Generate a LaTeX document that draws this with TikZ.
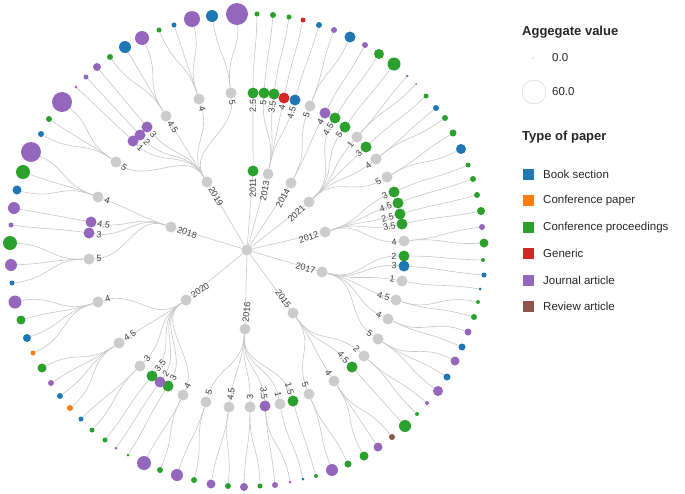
\documentclass[tikz,border=0pt]{standalone}
\usepackage{fontspec}
\setmainfont{Liberation Sans}
\usetikzlibrary{calc,backgrounds}
\definecolor{cB}{HTML}{1F77B4}
\definecolor{cO}{HTML}{FF7F0E}
\definecolor{cG}{HTML}{2CA02C}
\definecolor{cR}{HTML}{D62728}
\definecolor{cP}{HTML}{9467BD}
\definecolor{cN}{HTML}{8C564B}
\definecolor{cY}{HTML}{CCCCCC}
\tikzset{
  link/.style={draw=black!22, line width=0.6pt},
  inner/.style={circle, inner sep=0pt, minimum size=11pt},
  leaf/.style={circle, inner sep=0pt},
  lbltext/.style={font=\fontsize{9}{10}\selectfont, text=black!75, inner sep=0pt},
  legtext/.style={font=\fontsize{11.5}{13}\selectfont, text=black!85, anchor=west, inner sep=0pt},
  legtitle/.style={font=\bfseries\fontsize{13}{15}\selectfont, text=black!85, anchor=west, inner sep=0pt}
}
% label laid along the radius, on the side of the centre
\newcommand{\lbl}[3]{\path let \p1=($(ctr)-(#1)$), \n1={atan2(\y1,\x1)},
  \n2={ifthenelse(\x1<0,\n1+180,\n1)} in node[lbltext, rotate=\n2] at ($(#1)!#3!(ctr)$) {#2};}
% radial link
\newcommand{\edge}[2]{\begin{pgfonlayer}{background}
  \draw[link] let \p1=($(#1)-(ctr)$), \p2=($(#2)-(ctr)$), \n1={(veclen(\x1,\y1)+veclen(\x2,\y2))/2} in
  (#1) .. controls ($(ctr)!\n1!(#1)$) and ($(ctr)!\n1!(#2)$) .. (#2);
  \end{pgfonlayer}}
\begin{document}
\begin{tikzpicture}[x=1pt, y=-1pt]
\useasboundingbox (0,0) rectangle (685,493);
\coordinate (ctr) at (252,255);
\node[inner, fill=cY] (hub) at (247,250) {};

% years
\foreach \nm/\px/\py/\c/\t in {y19/207/182/cY/2019, y18/171/227/cY/2018, y11/253/171/cG/2011,
  y13/268/174/cY/2013, y14/291/183/cY/2014, y21/309/202/cY/2021, y12/325/232/cY/2012,
  y17/322/272/cY/2017, y15/293/313/cY/2015, y16/245/329/cY/2016, y20/186/300/cY/2020}{
  \node[inner, fill=\c] (\nm) at (\px,\py) {};
  \begin{pgfonlayer}{background}\draw[link] (hub) -- (\nm);\end{pgfonlayer}
  \lbl{\nm}{\t}{17pt}
}

% scores
\foreach \nm/\px/\py/\c/\t/\pa/\d in {
  a1/116/162/cY/5/y19/10pt, a2/133/141/cP/1/y19/10pt, a3/140/135/cP/2/y19/10pt, a4/147/127/cP/3/y19/10pt,
  a5/166/116/cY/4.5/y19/13pt, a6/199/99/cY/4/y19/10pt, a7/231/93/cY/5/y19/10pt,
  b1/98/197/cY/4/y18/10pt, b2/91/222/cP/4.5/y18/13pt, b3/89/233/cP/3/y18/10pt, b4/89/259/cY/5/y18/10pt,
  c1/253/93/cG/2.5/y11/13pt, c2/264/93/cG/5/y13/10pt, c3/274/94/cG/3.5/y13/13pt,
  c4/284/98/cR/4/y13/10pt, c5/295/100/cB/4.5/y13/13pt,
  d1/310/106/cY/5/y14/10pt, d2/325/113/cP/4/y14/10pt, d3/335/118/cG/4.5/y21/13pt, d4/345/127/cG/5/y21/10pt,
  e1/357/137/cY/1/y21/10pt, e2/366/147/cG/3/y21/10pt, e3/376/159/cY/4/y21/10pt, e4/387/177/cY/5/y21/10pt,
  f1/394/192/cG/3/y12/10pt, f2/398/203/cG/4.5/y12/13pt, f3/400/214/cG/2.5/y12/13pt,
  f4/402/224/cG/3.5/y12/13pt, f5/404/241/cY/4/y12/10pt,
  g1/404/256/cG/2/y17/10pt, g2/404/266/cB/3/y17/10pt, g3/402/281/cY/1/y17/10pt,
  g4/396/300/cY/4.5/y17/13pt, g5/388/319/cY/4/y17/10pt, g6/378/339/cY/5/y17/10pt,
  h1/364/356/cY/2/y15/10pt, h2/352/367/cG/4.5/y15/13pt, h3/334/381/cY/4/y15/10pt, h4/309/394/cY/5/y15/10pt,
  i1/293/401/cG/1.5/y16/13pt, i2/280/404/cY/1/y16/10pt, i3/265/406/cP/3.5/y16/13pt,
  i4/250/407/cY/3/y16/10pt, i5/229/407/cY/4.5/y16/13pt, i6/206/402/cY/5/y16/10pt,
  j1/183/395/cY/4/y20/10pt, j2/168/386/cG/3/y20/10pt, j3/160/382/cP/2/y20/10pt, j4/152/376/cG/3.5/y20/13pt,
  j5/140/366/cY/3/y20/10pt, j6/119/343/cY/4.5/y20/13pt, j7/98/302/cY/4/y20/10pt}{
  \node[inner, fill=\c] (\nm) at (\px,\py) {};
  \edge{\pa}{\nm}
  \lbl{\nm}{\t}{\d}
}

% papers
\foreach \px/\py/\c/\s/\pa [count=\i] in {
  10/243/cG/14/b4, 11/265/cP/12/b4, 12/283/cB/5/b4, 11/225/cP/5/b3, 14/208/cP/12/b2,
  17/190/cB/9/b1, 23/172/cG/14/b1, 31/152/cP/20/b1,
  41/134/cB/6/a1, 49/119/cG/6/a1, 62/102/cP/20/a1,
  76/87/cP/3/a2, 86/77/cP/5/a3, 97/67/cP/8/a4,
  110/57/cG/6/a5, 125/47/cB/12/a5, 142/38/cP/14/a5,
  159/30/cG/5/a6, 174/25/cB/5/a6, 192/19/cP/16/a6,
  212/16/cB/12/a7, 237/14/cP/22/a7,
  257/14/cG/5/c1, 273/15/cG/6/c2, 289/17/cG/5/c3, 303/20/cR/5/c4, 319/25/cB/6/c5,
  334/30/cP/6/d1, 350/37/cB/11/d1, 365/45/cP/6/d2, 379/54/cG/10/d3, 394/64/cG/13/d4,
  407/76/cP/3/e1, 416/84/cP/2/e1, 426/96/cG/5/e2, 436/108/cB/6/e3, 445/118/cG/6/e3,
  453/133/cG/7/e4, 461/149/cB/10/e4,
  468/165/cG/5/f1, 473/179/cG/6/f2, 477/195/cG/6/f3, 481/211/cG/8/f4, 482/227/cP/6/f5, 484/243/cG/9/f5,
  483/260/cG/4/g1, 484/275/cB/5/g2, 480/289/cB/3/g3, 478/302/cG/4/g4, 474/317/cG/6/g4,
  468/332/cP/7/g5, 462/347/cB/7/g5, 455/361/cP/9/g6, 447/377/cB/7/g6, 438/391/cP/10/g6,
  427/403/cP/4/h1, 417/414/cG/4/h1, 405/426/cG/12/h2, 392/437/cN/6/h3, 378/447/cP/9/h3,
  364/456/cG/9/h3, 348/464/cG/7/h4, 332/470/cP/12/h4,
  316/476/cG/4/i1, 303/479/cB/3/i2, 290/482/cP/3/i3, 275/485/cP/6/i3, 260/486/cG/5/i4,
  244/487/cP/8/i4, 228/486/cG/6/i5, 211/484/cP/9/i5, 194/480/cG/6/i6, 177/475/cP/12/i6,
  160/470/cG/6/j1, 144/463/cP/14/j1, 128/455/cG/3/j2, 116/448/cP/3/j3, 105/440/cG/5/j4,
  92/430/cG/5/j5, 81/419/cB/5/j5, 70/408/cO/6/j6, 60/396/cB/6/j6, 51/383/cP/6/j6, 42/368/cG/9/j6,
  33/353/cO/5/j7, 27/338/cB/8/j7, 21/320/cG/9/j7, 15/302/cP/13/j7}{
  \node[leaf, fill=\c, minimum size=\s pt] (l\i) at (\px,\py) {};
  \edge{\pa}{l\i}
}

% legend
\node[legtitle] (aggtitle) at (522,32) {Aggegate value};
\node[leaf, draw=black!20, minimum size=1pt] (agg0) at (533,58) {};
\node[legtext] (agg0txt) at (552,58) {0.0};
\node[leaf, draw=black!20, minimum size=24pt] (agg60) at (534,92) {};
\node[legtext] (agg60txt) at (552,92) {60.0};
\node[legtitle] (typetitle) at (522,137) {Type of paper};
\foreach \c/\t [count=\i] in {cB/Book section, cO/Conference paper, cG/Conference proceedings,
  cR/Generic, cP/Journal article, cN/Review article}{
  \node[fill=\c, minimum size=11pt, inner sep=0pt] (key\i) at (528,148+26.4*\i) {};
  \node[legtext] (keytxt\i) at (543,148+26.4*\i) {\t};
}
\end{tikzpicture}
\end{document}
